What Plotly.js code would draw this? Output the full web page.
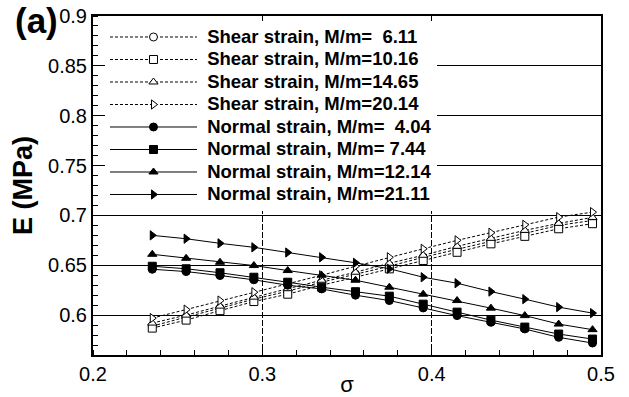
<!DOCTYPE html>
<html>
<head>
<meta charset="utf-8">
<script src="https://cdn.plot.ly/plotly-3.0.1.min.js"></script>
<style>html,body{margin:0;padding:0;background:#fff;}#chart{width:629px;height:397px;}</style>
</head>
<body>
<div id="chart"></div>
<script>
// sigma values
var sigma = [0.235, 0.255, 0.275, 0.295, 0.315, 0.335, 0.355, 0.375, 0.395, 0.415, 0.435, 0.455, 0.475, 0.495];

// Shear strain series
var shear611  = [0.589, 0.598, 0.607, 0.616, 0.624, 0.633, 0.641, 0.649, 0.658, 0.666, 0.674, 0.682, 0.690, 0.695];
var shear1016 = [0.587, 0.595, 0.6045, 0.6136, 0.621, 0.630, 0.638, 0.6464, 0.6548, 0.663, 0.6715, 0.679, 0.6866, 0.6917];
var shear1465 = [0.592, 0.600, 0.609, 0.618, 0.6265, 0.635, 0.643, 0.652, 0.660, 0.669, 0.677, 0.685, 0.692, 0.698];
var shear2014 = [0.597, 0.6055, 0.6146, 0.623, 0.6314, 0.640, 0.649, 0.658, 0.6665, 0.675, 0.6826, 0.6906, 0.6983, 0.7033];

// Normal strain series
var normal404  = [0.646, 0.6437, 0.6397, 0.6354, 0.630, 0.6263, 0.620, 0.6146, 0.6072, 0.5995, 0.5928, 0.5861, 0.5777, 0.572];
var normal744  = [0.649, 0.6465, 0.6425, 0.638, 0.633, 0.628, 0.6235, 0.619, 0.611, 0.603, 0.595, 0.588, 0.581, 0.576];
var normal1214 = [0.661, 0.657, 0.653, 0.6497, 0.6447, 0.640, 0.635, 0.628, 0.621, 0.6146, 0.607, 0.5995, 0.591, 0.5854];
var normal2111 = [0.680, 0.6766, 0.672, 0.668, 0.6628, 0.658, 0.6525, 0.6465, 0.638, 0.632, 0.6236, 0.616, 0.608, 0.602];

var names = [
  'Shear strain, M/m=\u00A0\u00A06.11',
  'Shear strain, M/m=10.16',
  'Shear strain, M/m=14.65',
  'Shear strain, M/m=20.14',
  'Normal strain, M/m=\u00A0\u00A04.04',
  'Normal strain, M/m=\u00A07.44',
  'Normal strain, M/m=12.14',
  'Normal strain, M/m=21.11'
];
var series = [shear611, shear1016, shear1465, shear2014, normal404, normal744, normal1214, normal2111];
var symbols = ['circle', 'square', 'triangle-up', 'triangle-right',
               'circle', 'square', 'triangle-up', 'triangle-right'];

var traces = series.map(function (ys, i) {
  var isShear = i < 4;
  return {
    x: sigma, y: ys, type: 'scatter', mode: 'lines+markers',
    name: '<span style="font-size:18.5px"><b>\u00A0' + names[i] + '</b></span>',
    line: {color: '#000', width: 1, dash: isShear ? '3px,2px' : 'solid'},
    marker: {symbol: symbols[i], size: 8, color: isShear ? '#fff' : '#000',
             line: {color: '#000', width: 1}}
  };
});

var font = 'Liberation Sans, Arial, sans-serif';

// overlay axis carrying the upper (dashed) horizontal grid lines
traces.push({x: [0.2], y: [0.9], yaxis: 'y2', mode: 'markers', marker: {opacity: 0},
             showlegend: false, hoverinfo: 'skip'});

var layout = {
  width: 629, height: 397,
  margin: {l: 93, r: 28, t: 16, b: 42},
  paper_bgcolor: '#fff', plot_bgcolor: '#fff',
  showlegend: true,
  xaxis: {
    range: [0.2, 0.5], tickvals: [0.2, 0.3, 0.4, 0.5], ticktext: ['0.2', '0.3', '0.4', '0.5'],
    ticks: '', showgrid: true, gridcolor: '#000', gridwidth: 1, griddash: '6px,2px',
    showline: true, linecolor: '#000', linewidth: 2, mirror: true, zeroline: false,
    minor: {dtick: 0.02, tick0: 0.2, ticks: 'inside', ticklen: 5, tickcolor: '#000', showgrid: false},
    tickfont: {family: font, size: 20, color: '#000'},
    title: {text: 'σ', font: {family: font, size: 22, color: '#000'}, standoff: 2}
  },
  yaxis: {
    range: [0.56, 0.9], tickvals: [0.6, 0.65, 0.7, 0.75, 0.8, 0.85, 0.9],
    ticktext: ['0.6', '0.65', '0.7', '0.75', '0.8', '0.85', '0.9'],
    ticks: '', showgrid: true, gridcolor: '#000', gridwidth: 1,
    showline: true, linecolor: '#000', linewidth: 2, mirror: true, zeroline: false,
    minor: {dtick: 0.01, tick0: 0.56, ticks: 'inside', ticklen: 5, tickcolor: '#000', showgrid: false},
    tickfont: {family: font, size: 20, color: '#000'},
    title: {text: 'E (MPa)', font: {family: font, size: 27, color: '#000', weight: 'bold'}, standoff: 8}
  },
  yaxis2: {
    overlaying: 'y', range: [0.56, 0.9], showticklabels: false, ticks: '',
    tickvals: [0.75, 0.8, 0.85], showgrid: true, gridcolor: '#000', gridwidth: 1, griddash: '4px,1px',
    zeroline: false, showline: false
  },
  legend: {
    x: 0.0236, y: 0.986, xanchor: 'left', yanchor: 'top',
    bgcolor: '#fff', borderwidth: 0, itemwidth: 87, tracegroupgap: 0,
    font: {family: font, size: 15, color: '#000'}
  },
  annotations: [{
    text: '<b>(a)</b>', xref: 'paper', yref: 'paper', x: -0.157, y: 1.05, xanchor: 'left', yanchor: 'top',
    showarrow: false, font: {family: font, size: 35, color: '#000'}
  }]
};

Plotly.newPlot('chart', traces, layout, {displayModeBar: false, staticPlot: true});
</script>
</body>
</html>
